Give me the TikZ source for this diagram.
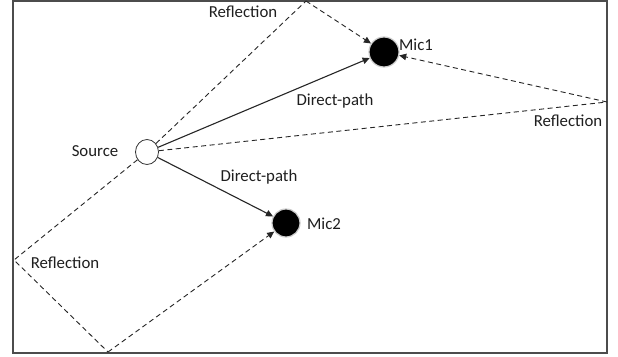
\documentclass[tikz,border=0pt]{standalone}
\usepackage{fontspec}
\setmainfont{Carlito}
\usetikzlibrary{arrows.meta,shapes.geometric}
\begin{document}
\begin{tikzpicture}[x=1pt,y=-1pt,
  lbl/.style={font=\fontsize{16.8}{18}\selectfont, inner sep=0pt, text=black!88},
  mic/.style={circle, fill=black, draw=black!20, line width=1.2pt, inner sep=0pt},
  srcnode/.style={ellipse, draw=black!80, fill=white, line width=0.8pt, inner sep=0pt, minimum width=23pt, minimum height=25pt},
  refl/.style={dashed, dash pattern=on 5pt off 3.5pt, line width=0.9pt, black!85},
  direct/.style={line width=1.1pt, black!85},
  tip/.style={-{Triangle[length=7pt,width=6.5pt]}}
]
\useasboundingbox (0,0) rectangle (618,356);
\fill[white] (0,0) rectangle (618,356);
\draw[line width=1.5pt, black!70] (13,1) rectangle (607,353);

\node[srcnode] (src) at (147,152) {};
\node[mic, minimum size=30pt] (mic1) at (384,52) {};
\node[mic, minimum size=28pt] (mic2) at (286,223) {};

\coordinate (rt) at (306,1);
\coordinate (rr) at (607,102);
\coordinate (rl) at (14,260);
\coordinate (rb) at (108,352);

% direct paths
\draw[direct, tip] (src) -- (mic1);
\draw[direct, tip] (src) -- (mic2);

% reflections
\draw[refl] (src) -- (rt);
\draw[refl, tip] (rt) -- (mic1);
\draw[refl] (src) -- (rr);
\draw[refl, tip] (rr) -- (mic1);
\draw[refl] (src) -- (rl) -- (rb);
\draw[refl, tip] (rb) -- (mic2);

% labels
\node[lbl] (lrt) at (243,12) {Reflection};
\node[lbl] (ldp1) at (335,101) {Direct-path};
\node[lbl] (lrr) at (568,121) {Reflection};
\node[lbl] (lsrc) at (95,151) {Source};
\node[lbl] (ldp2) at (259,177) {Direct-path};
\node[lbl] (lm1) at (416,45) {Mic1};
\node[lbl] (lm2) at (324,224) {Mic2};
\node[lbl] (lrl) at (65,263) {Reflection};
\end{tikzpicture}
\end{document}
